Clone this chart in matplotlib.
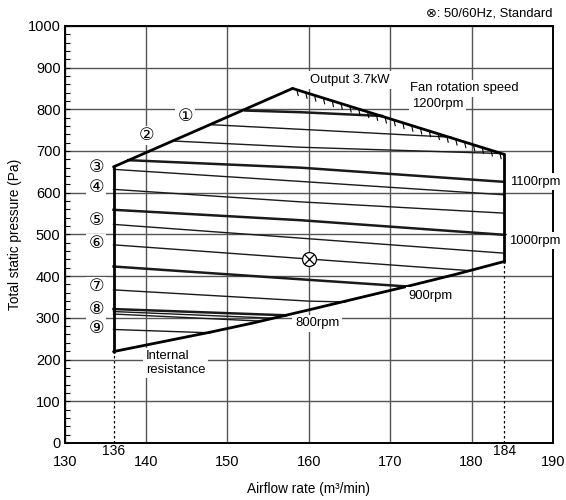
import matplotlib
matplotlib.use('Agg')
import matplotlib.pyplot as plt
import matplotlib.patheffects as pe
from matplotlib.ticker import MultipleLocator

plt.rcParams['font.family'] = ['Liberation Sans', 'DejaVu Sans', 'Noto Sans CJK JP']

# ---------------- data ----------------
x_ticks = [130, 140, 150, 160, 170, 180, 190]
y_ticks = [0, 100, 200, 300, 400, 500, 600, 700, 800, 900, 1000]
limit_x = [136, 184]

# operating-range boundary
left_edge_x = [136, 136]
left_edge_y = [219, 662]
top_left_x = [136, 158]
top_left_y = [662, 850]
top_right_x = [158, 184]          # output 3.7kW limit (hatched)
top_right_y = [850, 692]
right_edge_x = [184, 184]
right_edge_y = [692, 435]
resistance_x = [136, 148, 153, 160, 166, 172, 178, 184]   # internal resistance
resistance_y = [219, 266, 287, 319, 347, 375, 404, 435]

# fan rotation speed curves (thick)
rpm_labels = ['1200rpm', '1100rpm', '1000rpm', '900rpm', '800rpm']
rpm_x = [[152.2, 159, 169], [137.8, 159, 184], [136, 159, 184], [136, 160, 172.2], [136, 157.2]]
rpm_y = [[797, 793, 784], [678, 660, 626], [559, 534, 499], [423, 391, 375], [321, 306]]

# setting curves (thin)  ①..⑨ (⑧ has two lines)
setting_labels = ['①', '②', '③', '④', '⑤', '⑥', '⑦', '⑧', '⑨']
setting_x = [[148.1, 160, 177.5], [143.3, 159, 183.5], [136, 159, 184], [136, 159, 184],
             [136, 159, 184], [136, 160, 179.8], [136, 160, 164.5], [136, 155.7],
             [136, 154.2], [136, 147.9]]
setting_y = [[763, 751, 733], [724, 709, 694], [656, 627, 595], [608, 578, 551],
             [524, 491, 455], [475, 441, 413], [367, 340, 338], [315, 299],
             [309, 292], [272, 264]]

# standard point
std_x = [160]
std_y = [440]

# ---------------- figure ----------------
fig = plt.figure(figsize=(5.66, 5.0), dpi=100)
ax = fig.add_axes([64.7 / 566, 1 - 442.9 / 500, (553 - 64.7) / 566, (442.9 - 25.9) / 500])

ax.set_xlim(130, 190)
ax.set_ylim(0, 1000)
ax.set_xticks(x_ticks)
ax.set_yticks(y_ticks)
ax.yaxis.set_minor_locator(MultipleLocator(20))
ax.tick_params(axis='x', length=0, labelsize=10.5, pad=9)
ax.tick_params(axis='y', which='both', direction='in', length=3.5, width=0.8,
               labelsize=10.5, pad=3)
ax.grid(True, color='#555555', linewidth=1.0)
ax.set_axisbelow(True)
for s in ax.spines.values():
    s.set_color('black')
    s.set_linewidth(1.4)

ax.set_xlabel('Airflow rate (m³/min)', fontsize=9.8, labelpad=9)
ax.set_ylabel('Total static pressure (Pa)', fontsize=9.8, labelpad=4)

# dashed limit lines
ax.plot([limit_x[0]] * 2, [0, left_edge_y[0]], color='black', lw=0.9, ls=(0, (2, 2)), zorder=2)
ax.plot([limit_x[1]] * 2, [0, right_edge_y[1]], color='black', lw=0.9, ls=(0, (2, 2)), zorder=2)
for xv in limit_x:
    ax.annotate(str(xv), xy=(xv, 0), xytext=(0, -1), textcoords='offset points',
                ha='center', va='top', fontsize=10)

# thin setting curves
for xs, ys in zip(setting_x, setting_y):
    ax.plot(xs, ys, color='#1a1a1a', lw=1.0, zorder=3)
# thick rpm curves
for xs, ys in zip(rpm_x, rpm_y):
    ax.plot(xs, ys, color='#1a1a1a', lw=1.8, zorder=3)

# hatch ticks of output limit (drawn from corner to peak so ticks fall below)
ax.plot(top_right_x[::-1], top_right_y[::-1], color='black', lw=0.8, zorder=3,
        path_effects=[pe.withTickedStroke(angle=120, spacing=6.5, length=0.65)])

# boundary
for xs, ys in [(left_edge_x, left_edge_y), (top_left_x, top_left_y),
               (top_right_x, top_right_y), (right_edge_x, right_edge_y),
               (resistance_x, resistance_y)]:
    ax.plot(xs, ys, color='black', lw=2.0, zorder=3.5, solid_capstyle='round')

# standard point
ax.plot(std_x, std_y, marker='o', ms=10, mfc='white', mec='black', mew=0.9, ls='none', zorder=5)
ax.plot(std_x, std_y, marker='x', ms=7, mec='black', mew=0.9, ls='none', zorder=6)

wbox = dict(boxstyle='square,pad=0.2', fc='white', ec='none')
fs = 9.4

# circled number labels
label_pos = [(144.8, 782), (140.0, 738), (133.85, 661), (133.85, 612), (133.85, 533),
             (133.85, 479), (133.85, 375), (133.85, 320), (133.85, 275)]
for lab, (lx, ly) in zip(setting_labels, label_pos):
    ax.text(lx, ly, lab, ha='center', va='center', fontsize=12.5,
            bbox=dict(boxstyle='square,pad=0.12', fc='white', ec='none'), zorder=4)

# rpm labels
rpm_text_pos = [(172.65, 812), (184.7, 626), (184.65, 485), (172.2, 353), (158.3, 287)]
for lab, (lx, ly) in zip(rpm_labels, rpm_text_pos):
    ax.text(lx, ly, lab, ha='left', va='center', fontsize=fs, bbox=wbox, zorder=4)

ax.text(172.4, 850, 'Fan rotation speed', ha='left', va='center', fontsize=fs, bbox=wbox, zorder=4)
ax.text(160.15, 870, 'Output 3.7kW', ha='left', va='center', fontsize=fs, bbox=wbox, zorder=4)
ax.text(140.0, 192, 'Internal\nresistance', ha='left', va='center', fontsize=fs,
        linespacing=1.15, bbox=wbox, zorder=4)

fig.text(552 / 566, 1 - 14 / 500, '⊗: 50/60Hz, Standard', ha='right', va='center', fontsize=9.4)

fig.savefig('out.png', dpi=100)
